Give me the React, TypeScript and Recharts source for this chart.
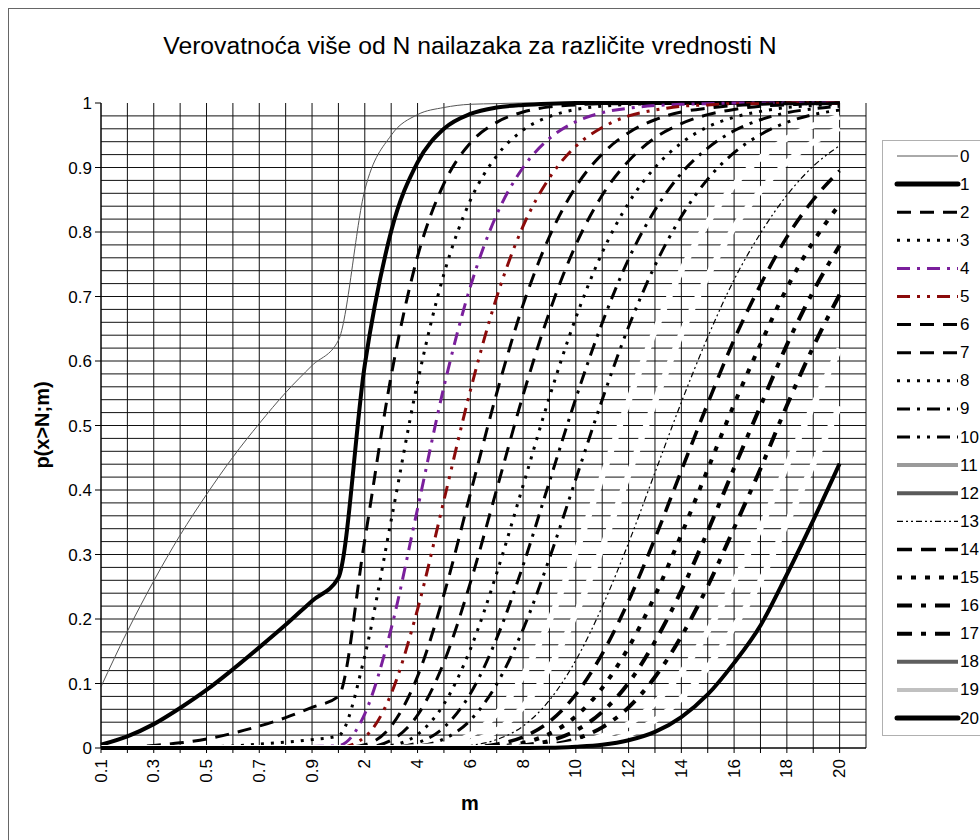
import { LineChart, Line, XAxis, YAxis, CartesianGrid } from 'recharts'

// m values (x categories) and P(x>N; m) for N = 0..20
const mValues = [0.1, 0.2, 0.3, 0.4, 0.5, 0.6, 0.7, 0.8, 0.9, 1, 2, 3, 4, 5, 6, 7, 8, 9, 10, 11, 12, 13, 14, 15, 16, 17, 18, 19, 20]
const yLabels = [0, 0.1, 0.2, 0.3, 0.4, 0.5, 0.6, 0.7, 0.8, 0.9, 1]
const yGrid = Array.from({ length: 50 }, (_, i) => +(i * 0.02).toFixed(2))

const p0 = [0.095, 0.181, 0.259, 0.330, 0.393, 0.451, 0.503, 0.551, 0.593, 0.632, 0.865, 0.950, 0.982, 0.993, 0.998, 0.999, 1, 1, 1, 1, 1, 1, 1, 1, 1, 1, 1, 1, 1]
const p1 = [0.005, 0.018, 0.037, 0.062, 0.090, 0.122, 0.156, 0.191, 0.228, 0.264, 0.594, 0.801, 0.908, 0.960, 0.983, 0.993, 0.997, 0.999, 1, 1, 1, 1, 1, 1, 1, 1, 1, 1, 1]
const p2 = [0.0002, 0.001, 0.004, 0.008, 0.014, 0.023, 0.034, 0.047, 0.063, 0.080, 0.323, 0.577, 0.762, 0.875, 0.938, 0.970, 0.986, 0.994, 0.997, 0.999, 0.999, 1, 1, 1, 1, 1, 1, 1, 1]
const p3 = [0, 0.0001, 0.0003, 0.0008, 0.002, 0.003, 0.006, 0.009, 0.013, 0.019, 0.143, 0.353, 0.567, 0.735, 0.849, 0.918, 0.958, 0.979, 0.990, 0.995, 0.998, 0.999, 1, 1, 1, 1, 1, 1, 1]
const p4 = [0, 0, 0, 0.0001, 0.0002, 0.0004, 0.0008, 0.0014, 0.0023, 0.0037, 0.053, 0.185, 0.371, 0.560, 0.715, 0.827, 0.900, 0.945, 0.971, 0.985, 0.992, 0.996, 0.998, 0.999, 1, 1, 1, 1, 1]
const p5 = [0, 0, 0, 0, 0, 0, 0.0001, 0.0002, 0.0003, 0.0006, 0.017, 0.084, 0.215, 0.384, 0.554, 0.699, 0.809, 0.884, 0.933, 0.962, 0.980, 0.989, 0.995, 0.997, 0.999, 0.999, 1, 1, 1]
const p6 = [0, 0, 0, 0, 0, 0, 0, 0, 0, 0.0001, 0.005, 0.034, 0.111, 0.238, 0.394, 0.550, 0.687, 0.793, 0.870, 0.921, 0.954, 0.974, 0.986, 0.992, 0.996, 0.998, 0.999, 0.999, 1]
const p7 = [0, 0, 0, 0, 0, 0, 0, 0, 0, 0, 0.001, 0.012, 0.051, 0.133, 0.256, 0.401, 0.547, 0.676, 0.780, 0.857, 0.910, 0.946, 0.968, 0.982, 0.990, 0.995, 0.997, 0.999, 0.999]
const p8 = [0, 0, 0, 0, 0, 0, 0, 0, 0, 0, 0.0002, 0.004, 0.021, 0.068, 0.153, 0.271, 0.407, 0.544, 0.667, 0.768, 0.845, 0.900, 0.938, 0.963, 0.978, 0.987, 0.993, 0.996, 0.998]
const p9 = [0, 0, 0, 0, 0, 0, 0, 0, 0, 0, 0, 0.001, 0.008, 0.032, 0.084, 0.170, 0.283, 0.413, 0.542, 0.659, 0.758, 0.834, 0.891, 0.930, 0.957, 0.974, 0.985, 0.991, 0.995]
const p10 = [0, 0, 0, 0, 0, 0, 0, 0, 0, 0, 0, 0.0003, 0.003, 0.014, 0.043, 0.099, 0.184, 0.294, 0.417, 0.540, 0.653, 0.748, 0.824, 0.882, 0.923, 0.951, 0.970, 0.982, 0.989]
const p11 = [0, 0, 0, 0, 0, 0, 0, 0, 0, 0, 0, 0, 0.001, 0.005, 0.020, 0.053, 0.112, 0.197, 0.303, 0.421, 0.538, 0.647, 0.740, 0.815, 0.873, 0.915, 0.945, 0.965, 0.979]
const p12 = [0, 0, 0, 0, 0, 0, 0, 0, 0, 0, 0, 0, 0.0003, 0.002, 0.009, 0.027, 0.064, 0.124, 0.208, 0.311, 0.424, 0.537, 0.642, 0.732, 0.807, 0.864, 0.908, 0.939, 0.961]
const p13 = [0, 0, 0, 0, 0, 0, 0, 0, 0, 0, 0, 0, 0, 0.001, 0.004, 0.013, 0.034, 0.074, 0.136, 0.219, 0.318, 0.427, 0.536, 0.637, 0.726, 0.798, 0.857, 0.902, 0.934]
const p14 = [0, 0, 0, 0, 0, 0, 0, 0, 0, 0, 0, 0, 0, 0.0002, 0.001, 0.006, 0.017, 0.041, 0.083, 0.146, 0.228, 0.325, 0.430, 0.534, 0.633, 0.718, 0.792, 0.850, 0.895]
const p15 = [0, 0, 0, 0, 0, 0, 0, 0, 0, 0, 0, 0, 0, 0.0001, 0.0005, 0.002, 0.008, 0.022, 0.049, 0.093, 0.156, 0.236, 0.331, 0.432, 0.533, 0.626, 0.713, 0.785, 0.843]
const p16 = [0, 0, 0, 0, 0, 0, 0, 0, 0, 0, 0, 0, 0, 0, 0.0002, 0.001, 0.004, 0.011, 0.027, 0.056, 0.101, 0.165, 0.244, 0.336, 0.434, 0.530, 0.625, 0.708, 0.779]
const p17 = [0, 0, 0, 0, 0, 0, 0, 0, 0, 0, 0, 0, 0, 0, 0.0001, 0.0004, 0.002, 0.005, 0.014, 0.032, 0.063, 0.110, 0.173, 0.251, 0.341, 0.433, 0.531, 0.622, 0.703]
const p18 = [0, 0, 0, 0, 0, 0, 0, 0, 0, 0, 0, 0, 0, 0, 0, 0.0001, 0.001, 0.002, 0.007, 0.018, 0.037, 0.070, 0.117, 0.181, 0.258, 0.341, 0.438, 0.531, 0.619]
const p19 = [0, 0, 0, 0, 0, 0, 0, 0, 0, 0, 0, 0, 0, 0, 0, 0, 0.0003, 0.001, 0.003, 0.009, 0.021, 0.043, 0.077, 0.125, 0.188, 0.259, 0.349, 0.440, 0.530]
const p20 = [0, 0, 0, 0, 0, 0, 0, 0, 0, 0, 0, 0, 0, 0, 0, 0, 0.0001, 0.0004, 0.002, 0.005, 0.012, 0.025, 0.048, 0.083, 0.132, 0.190, 0.269, 0.353, 0.441]

const series = [p0, p1, p2, p3, p4, p5, p6, p7, p8, p9, p10, p11, p12, p13, p14, p15, p16, p17, p18, p19, p20]

// line look per N (plot colour, width, dash, legend colour)
const looks = [
  { c: '#555', w: 1, d: undefined, lc: '#555' },
  { c: '#000', w: 4, d: undefined, lc: '#000' },
  { c: '#000', w: 3, d: '14 9', lc: '#000' },
  { c: '#000', w: 3, d: '3 7', lc: '#000' },
  { c: '#7a1f9c', w: 3, d: '13 7 3 7', lc: '#7a1f9c' },
  { c: '#8b0a0a', w: 3, d: '13 7 3 7 3 7', lc: '#8b0a0a' },
  { c: '#000', w: 3, d: '14 9', lc: '#000' },
  { c: '#000', w: 3, d: '14 9', lc: '#000' },
  { c: '#000', w: 3, d: '3 7', lc: '#000' },
  { c: '#000', w: 3, d: '13 7 3 7', lc: '#000' },
  { c: '#000', w: 3, d: '13 7 3 7 3 7', lc: '#000' },
  { c: '#fff', w: 6, d: undefined, lc: '#9a9a9a' },
  { c: '#fff', w: 6, d: undefined, lc: '#5a5a5a' },
  { c: '#000', w: 1.2, d: '6 3 2 3 2 3', lc: '#000' },
  { c: '#000', w: 3.5, d: '15 9', lc: '#000' },
  { c: '#000', w: 4, d: '5 9', lc: '#000' },
  { c: '#000', w: 4, d: '15 9 5 9', lc: '#000' },
  { c: '#000', w: 4, d: '15 9 5 9', lc: '#000' },
  { c: '#fff', w: 6, d: undefined, lc: '#5e5e5e' },
  { c: '#fff', w: 6, d: undefined, lc: '#c0c0c0' },
  { c: '#000', w: 4, d: undefined, lc: '#000' },
]

const data = mValues.map((m, i) => {
  const row: Record<string, number> = { idx: i, m }
  series.forEach((s, n) => { row['n' + n] = s[i] })
  return row
})

const font = 'Arial, "Liberation Sans", sans-serif'

const XTick = (props: any) => {
  const { x, y, payload } = props
  if (payload.value % 2 !== 0) return <g />
  return (
    <text x={x} y={y} transform={`rotate(-90 ${x} ${y})`} textAnchor="end" dominantBaseline="central"
      fontSize={17} fontFamily={font} fill="#000">
      {String(mValues[payload.value])}
    </text>
  )
}

function LegendBox() {
  return (
    <svg width={980} height={840} style={{ position: 'absolute', left: 0, top: 0, pointerEvents: 'none' }}>
      <rect x={882.5} y={140.5} width={200} height={595} fill="#fff" stroke="#b0b0b0" />
      {looks.map((s, n) => {
        const y = 156 + n * 28.1
        const thick = n === 1 || n === 20
        return (
          <g key={n}>
            <line x1={897} x2={958} y1={y} y2={y} stroke={s.lc} strokeWidth={thick ? 5 : s.w === 6 ? 4 : s.w}
              strokeDasharray={s.d} strokeLinecap={thick ? 'round' : 'butt'} />
            <text x={960} y={y} dominantBaseline="central" fontSize={17} fontFamily={font} fill="#000">{n}</text>
          </g>
        )
      })}
    </svg>
  )
}

export default function App() {
  return (
    <div style={{ position: 'fixed', left: 0, top: 0, width: 980, height: 840, overflow: 'hidden', background: '#fff' }}>
      <div style={{ position: 'absolute', left: 8, top: 8, width: 1100, height: 1000, border: '1px solid #666' }} />
      <svg width={980} height={840} style={{ position: 'absolute', left: 0, top: 0 }}>
        <text x={470} y={54} textAnchor="middle" fontSize={24.7} fontFamily={font} fill="#000">
          Verovatnoća više od N nailazaka za različite vrednosti N
        </text>
        <text x={42} y={425} transform="rotate(-90 42 425)" textAnchor="middle" dominantBaseline="central"
          fontSize={20} fontWeight="bold" fontFamily={font} fill="#000">p(x&gt;N;m)</text>
        <text x={470} y={803} textAnchor="middle" dominantBaseline="central"
          fontSize={20} fontWeight="bold" fontFamily={font} fill="#000">m</text>
      </svg>
      <div style={{ position: 'absolute', left: 0, top: 0 }}>
        <LineChart width={980} height={840} data={data} margin={{ top: 103, right: 114, bottom: 42, left: 41 }}>
          <CartesianGrid stroke="#111" strokeWidth={1} horizontalValues={yGrid} />
          <XAxis dataKey="idx" type="number" domain={[0, 29]} ticks={mValues.map((_, i) => i)} interval={0}
            height={50} tickSize={5} tickMargin={6} stroke="#000" tick={<XTick />} allowDecimals={false} />
          <YAxis type="number" domain={[0, 1]} ticks={yLabels} interval={0} width={60}
            tickSize={6} tickMargin={3} stroke="#000"
            tick={{ fontSize: 17, fontFamily: font, fill: '#000' }} tickFormatter={(v: number) => String(v)} />
          {looks.map((s, n) => (
            <Line key={n} dataKey={'n' + n} type="monotone" stroke={s.c} strokeWidth={s.w}
              strokeDasharray={s.d} dot={false} isAnimationActive={false} />
          ))}
        </LineChart>
      </div>
      <LegendBox />
    </div>
  )
}
